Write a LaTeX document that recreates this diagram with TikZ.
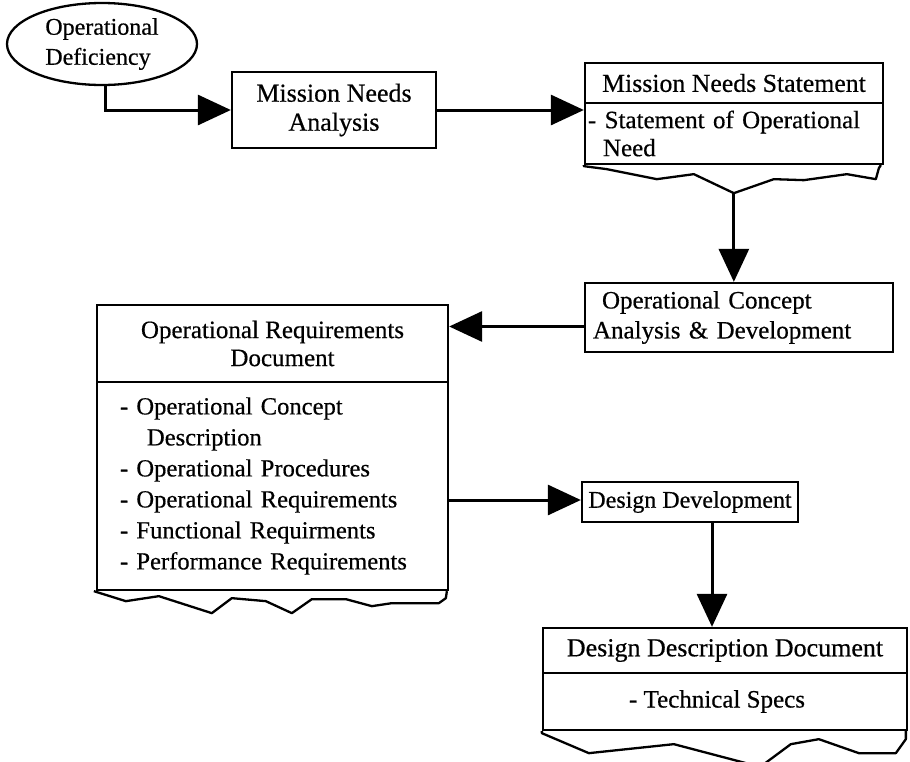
\documentclass[tikz,border=0pt]{standalone}
\usepackage{fontspec}
\setmainfont{Liberation Serif}[FakeBold=0.5]
\usetikzlibrary{arrows.meta,shapes.geometric,calc}

\begin{document}
\begin{tikzpicture}[x=1pt,y=-1pt,
  every node/.style={font=\fontsize{25}{30}\selectfont},
  box/.style={draw, line width=2.3pt, rectangle, inner sep=0pt},
  link/.style={line width=3pt, -{Triangle[length=33pt,width=30pt]}},
  tear/.style={line width=2.3pt, line join=round}]
\useasboundingbox (0,0) rectangle (910,761);

% starting condition
\node[draw, ellipse, line width=2.3pt, minimum width=190pt, minimum height=82pt,
      inner sep=0pt, align=left, font=\fontsize{24}{30}\selectfont] (def) at (102,44)
  {Operational\\Deficiency};

% analysis step
\node[box, minimum width=204pt, minimum height=76pt, align=center,
      font=\fontsize{26}{29}\selectfont] (mna) at (334,110)
  {Mission Needs\\Analysis};

% mission needs statement (document)
\node[box, minimum width=298pt, minimum height=40pt, font=\fontsize{25.8}{30}\selectfont]
  (mnst) at (734,83) {Mission Needs Statement};
\node[box, minimum width=298pt, minimum height=61pt, text width=292pt, align=left,
      font=\fontsize{25}{28}\selectfont]
  (mnsb) at (734,133.5) {- Statement of Operational\\\hspace*{15pt}Need};

% operational concept
\node[box, minimum width=308pt, minimum height=69pt, text width=292pt, align=left]
  (oca) at (739,317.5) {\hspace*{9pt}Operational Concept\\Analysis \& Development};

% operational requirements document
\node[box, minimum width=351pt, minimum height=77pt, align=center,
      font=\fontsize{25}{28}\selectfont] (ordt) at (272.5,343.5)
  {Operational Requirements\\\hspace*{20pt}Document};
\node[box, minimum width=351pt, minimum height=208pt, text width=305pt, align=left,
      font=\fontsize{24.6}{31}\selectfont] (ordb) at (272.5,486)
  {- Operational Concept\\\hspace*{27pt}Description\\- Operational Procedures\\
   - Operational Requirements\\- Functional Requirments\\- Performance Requirements};

% design development
\node[box, minimum width=216pt, minimum height=40pt, font=\fontsize{24}{30}\selectfont]
  (dd) at (690,502) {Design Development};

% design description document
\node[box, minimum width=364pt, minimum height=45pt, font=\fontsize{26}{30}\selectfont]
  (dddt) at (725,650.5) {Design Description Document};
\node[box, minimum width=364pt, minimum height=57pt] (dddb) at (725,701.5)
  {\hspace*{-16pt}- Technical Specs};

% torn lower edges of the documents
\begin{scope}[shift={(mnsb.south west)}]
  \draw[tear] (0,0) -- (0,1) -- (23,4) -- (73,14) -- (110,9) -- (150,28) -- (190,14)
    -- (220,15) -- (263,9) -- (292,14) -- (295,3) -- (297,0);
  \coordinate (mnstip) at (150,28);
\end{scope}
\begin{scope}[shift={(ordb.south west)}]
  \draw[tear] (-2,0) -- (30,10) -- (63,5) -- (116,22) -- (136,7) -- (170,10) -- (196,22)
    -- (216,8) -- (250,8) -- (276,15) -- (296,12) -- (343,12) -- (350,7) -- (351,0);
\end{scope}
\begin{scope}[shift={(dddb.south west)}]
  \draw[tear] (0,0) -- (0,2) -- (47,22) -- (132,13) -- (208,33) -- (214,36) -- (222,33)
    -- (249,13) -- (277,8) -- (317,22) -- (354,22) -- (364,8) -- (364,0);
\end{scope}

% flow
\draw[link] ([xshift=3pt]def.south) |- (mna.west);
\draw[link] (mna.east) -- (mna.east -| mnsb.west);
\draw[link] (mnstip) -- (mnstip |- oca.north);
\draw[link] ([yshift=-9pt]oca.west) -- ([yshift=-9pt]oca.west -| ordt.east);
\draw[link] ([yshift=2pt]dd.west -| ordb.east) -- ([yshift=2pt]dd.west);
\draw[link] ([xshift=22pt]dd.south) -- ([xshift=22pt]dd.south |- dddt.north);
\end{tikzpicture}
\end{document}
